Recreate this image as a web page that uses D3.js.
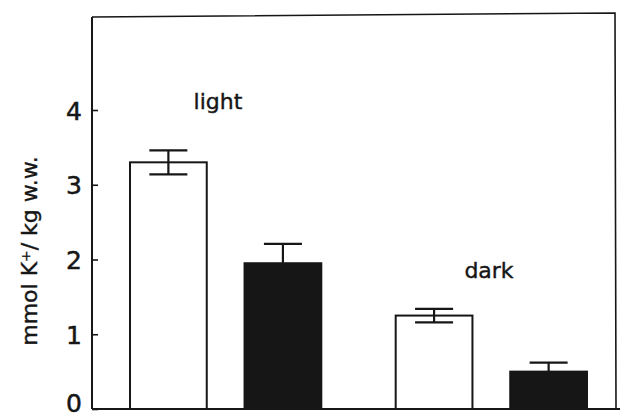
<!DOCTYPE html>
<html>
<head>
<meta charset="utf-8">
<script src="https://cdn.jsdelivr.net/npm/d3@7"></script>
<style>
  html, body { margin: 0; padding: 0; background: #fff; }
</style>
</head>
<body>
<div id="chart"></div>
<script>
// data
const groups = ["light", "dark"];
const conditions = ["open", "filled"];
const values = [3.3, 1.95, 1.25, 0.5];      // light-open, light-filled, dark-open, dark-filled
const errors = [0.16, 0.26, 0.09, 0.12];
const yTickValues = [0, 1, 2, 3, 4];
const yLabel = "mmol K\u207A/ kg w.w.";

const width = 620, height = 416;
const frame = { left: 92, right: 615, top: 14, bottom: 409 };
const ink = "#161616";
const font = "'DejaVu Sans', 'Noto Sans', sans-serif";

const svg = d3.select("#chart").append("svg")
    .attr("width", width)
    .attr("height", height)
    .attr("viewBox", `0 0 ${width} ${height}`);

// scales
const y = d3.scaleLinear().domain([0, 4]).range([frame.bottom, 110]);
const xGroup = d3.scaleBand().domain(groups)
    .range([frame.left + 38, frame.right - 28])
    .paddingInner(0.28).paddingOuter(0);
const xCond = d3.scaleBand().domain(conditions)
    .range([0, xGroup.bandwidth()])
    .paddingInner(0.33).paddingOuter(0);

const bars = [];
groups.forEach((g, gi) => {
    conditions.forEach((c, ci) => {
        const i = gi * conditions.length + ci;
        bars.push({ group: g, cond: c, value: values[i], err: errors[i] });
    });
});

// frame: top and right sides
svg.append("path")
    .attr("d", `M${frame.left},${frame.top + 3} L${frame.right},${frame.top - 1} L${frame.right + 1},${frame.bottom}`)
    .attr("fill", "none")
    .attr("stroke", ink)
    .attr("stroke-width", 1.6);

// bars
const bw = xCond.bandwidth();
svg.selectAll("rect.bar")
    .data(bars)
    .join("rect")
    .attr("class", "bar")
    .attr("x", d => xGroup(d.group) + xCond(d.cond))
    .attr("y", d => y(d.value))
    .attr("width", bw)
    .attr("height", d => y(0) - y(d.value))
    .attr("fill", d => d.cond === "filled" ? ink : "#fff")
    .attr("stroke", ink)
    .attr("stroke-width", 2);

// error bars (open bars: both directions, filled bars: upward only)
const capW = 38;
bars.forEach(d => {
    const cx = xGroup(d.group) + xCond(d.cond) + bw / 2;
    const top = y(d.value + d.err);
    const bot = d.cond === "filled" ? y(d.value) : y(d.value - d.err);
    const gEb = svg.append("g")
        .attr("stroke", ink)
        .attr("stroke-width", 2.2);
    gEb.append("line")
        .attr("x1", cx).attr("x2", cx)
        .attr("y1", top).attr("y2", bot);
    gEb.append("line")
        .attr("x1", cx - capW / 2).attr("x2", cx + capW / 2)
        .attr("y1", top).attr("y2", top);
    if (d.cond !== "filled") {
        gEb.append("line")
            .attr("x1", cx - capW / 2).attr("x2", cx + capW / 2)
            .attr("y1", bot).attr("y2", bot);
    }
});

// axes
svg.append("line")
    .attr("x1", frame.left).attr("x2", width)
    .attr("y1", frame.bottom).attr("y2", frame.bottom)
    .attr("stroke", ink).attr("stroke-width", 2);

const yAxis = svg.append("g")
    .attr("transform", `translate(${frame.left},0)`)
    .call(d3.axisLeft(y).tickValues(yTickValues).tickSize(-6).tickPadding(10).tickFormat(d3.format("d")));
yAxis.select(".domain")
    .attr("d", `M0,${frame.bottom}V${frame.top + 3}`)
    .attr("stroke", ink).attr("stroke-width", 2);
yAxis.selectAll(".tick line").attr("stroke", ink).attr("stroke-width", 1.6);
yAxis.selectAll(".tick text")
    .attr("fill", ink)
    .attr("stroke", ink)
    .attr("stroke-width", 0.5)
    .style("font-family", font)
    .style("font-size", "25px")
    .attr("dy", d => d === 0 ? "0.1em" : "0.36em");

// y label
svg.append("text")
    .attr("transform", `translate(37,${251}) rotate(-90)`)
    .attr("text-anchor", "middle")
    .style("font-family", font)
    .style("font-size", "22px")
    .attr("fill", ink)
    .attr("stroke", ink)
    .attr("stroke-width", 0.4)
    .text(yLabel);

// group labels
svg.append("text")
    .attr("x", 218).attr("y", 109)
    .attr("text-anchor", "middle")
    .style("font-family", font)
    .style("font-size", "22px")
    .attr("fill", ink)
    .attr("stroke", ink)
    .attr("stroke-width", 0.4)
    .text(groups[0]);

svg.append("text")
    .attr("x", 489).attr("y", 278)
    .attr("text-anchor", "middle")
    .style("font-family", font)
    .style("font-size", "22px")
    .attr("fill", ink)
    .attr("stroke", ink)
    .attr("stroke-width", 0.4)
    .text(groups[1]);
</script>
</body>
</html>
